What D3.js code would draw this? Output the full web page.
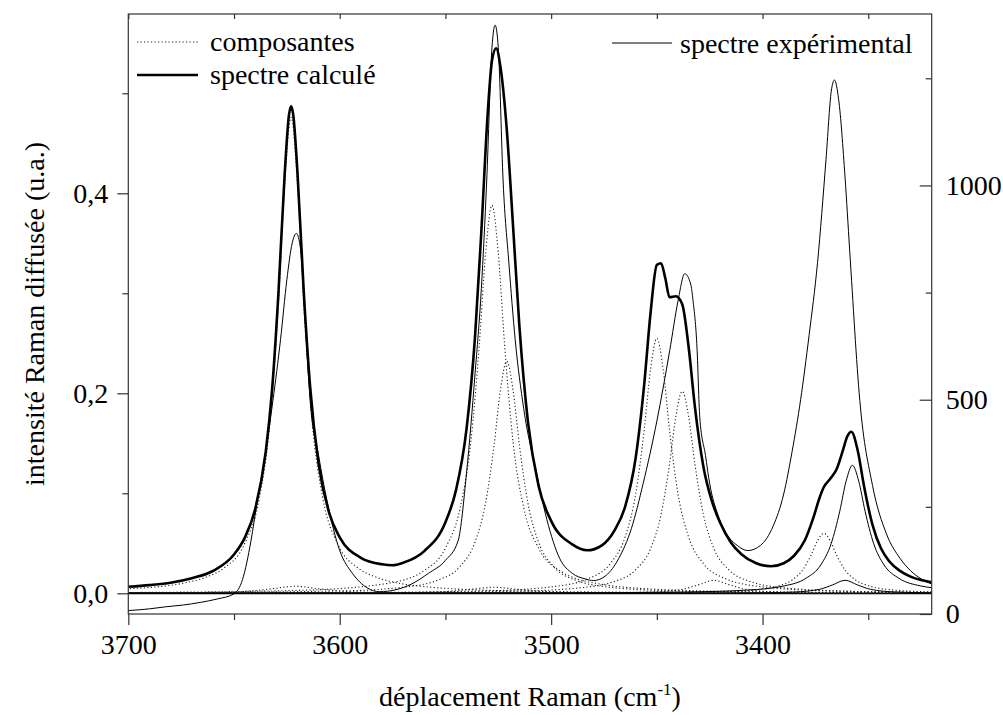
<!DOCTYPE html>
<html><head><meta charset="utf-8">
<script src="https://cdn.jsdelivr.net/npm/d3@7"></script>
<style>body{margin:0;background:#fff}svg{display:block}</style>
</head><body><svg id="c" width="1003" height="715"></svg>
<script>
// ---- data (wavenumber cm-1, intensity) ----
const xTicks=[3700,3600,3500,3400], xMinor=[3650,3550,3450,3350];
const yLeftTicks=[0,0.2,0.4], yLeftMinor=[0.1,0.3,0.5];
const yRightTicks=[0,500,1000], yRightMinor=[250,750,1250];
// calculated spectrum (left axis)
const calc=[[3700,0.0065],[3690,0.0082],[3680,0.0106],[3670,0.0151],[3660,0.0223],[3650,0.0388],[3645,0.0552],[3640,0.084],[3635,0.1413],[3632,0.2035],[3629,0.2997],[3626,0.4206],[3624,0.4784],[3623,0.4869],[3622,0.4787],[3620,0.4213],[3617,0.301],[3614,0.2067],[3610,0.1295],[3605,0.0805],[3600,0.0559],[3590,0.0355],[3580,0.029],[3575,0.028],[3570,0.0305],[3560,0.0422],[3550,0.0711],[3545,0.1032],[3540,0.1647],[3536,0.2567],[3533,0.3625],[3530,0.4802],[3528,0.5323],[3526,0.545],[3524,0.5268],[3521,0.4642],[3518,0.3667],[3515,0.2666],[3511,0.172],[3506,0.1079],[3500,0.0724],[3490,0.0489],[3483,0.043],[3476,0.048],[3470,0.063],[3465,0.0866],[3460,0.1358],[3456,0.2084],[3453,0.2798],[3450,0.3284],[3448,0.330],[3446,0.315],[3444,0.296],[3441,0.297],[3438,0.289],[3435,0.2468],[3432,0.1864],[3428,0.1269],[3424,0.0924],[3420,0.0702],[3415,0.0509],[3410,0.0391],[3403,0.030],[3396,0.027],[3390,0.030],[3385,0.0378],[3380,0.0531],[3376,0.0755],[3373,0.0958],[3371,0.1063],[3368,0.1145],[3365,0.124],[3362,0.143],[3360,0.1565],[3358,0.1616],[3355,0.1428],[3352,0.1071],[3348,0.0685],[3344,0.045],[3340,0.0318],[3335,0.0224],[3330,0.0167],[3325,0.0132],[3320,0.0109]];
// components (left axis), dotted
const comp3623=[[3700,0.0045],[3673,0.0105],[3663,0.0163],[3655,0.0248],[3645,0.0495],[3638,0.0952],[3633,0.171],[3629,0.290],[3626,0.410],[3623,0.476],[3620,0.410],[3617,0.290],[3613,0.171],[3608,0.0952],[3601,0.0495],[3591,0.0248],[3583,0.0163],[3573,0.0105],[3558,0.0063],[3543,0.0041],[3503,0.0019],[3423,0.0007],[3320,0.0003]];
const comp3621=[[3700,0.0002],[3661,0.0009],[3641,0.0025],[3631,0.0048],[3621,0.007],[3611,0.0048],[3601,0.0025],[3581,0.0009],[3541,0.0002],[3320,0]];
const comp3528=[[3700,0.0008],[3620,0.0029],[3578,0.0097],[3560,0.0228],[3550,0.0453],[3543,0.0857],[3538,0.151],[3534,0.248],[3531,0.340],[3528,0.388],[3525,0.340],[3522,0.248],[3518,0.151],[3513,0.0857],[3506,0.0453],[3496,0.0228],[3478,0.0097],[3448,0.0038],[3408,0.0017],[3320,0.0006]];
const comp3521=[[3700,0.0005],[3601,0.0023],[3571,0.0058],[3553,0.0136],[3543,0.0271],[3536,0.0513],[3531,0.0905],[3527,0.148],[3524,0.203],[3521,0.232],[3518,0.203],[3515,0.148],[3511,0.0905],[3506,0.0513],[3499,0.0271],[3489,0.0136],[3471,0.0058],[3441,0.0023],[3401,0.001],[3320,0.0004]];
const comp3527=[[3700,0],[3587,0.0004],[3562,0.0009],[3547,0.0022],[3537,0.0042],[3527,0.006],[3517,0.0042],[3507,0.0022],[3492,0.0009],[3467,0.0004],[3320,0]];
const comp3450=[[3700,0.0003],[3600,0.0007],[3530,0.0025],[3500,0.0064],[3482,0.015],[3472,0.0298],[3465,0.0564],[3460,0.0995],[3456,0.1632],[3453,0.2236],[3450,0.255],[3447,0.2236],[3444,0.1632],[3440,0.0995],[3435,0.0564],[3428,0.0298],[3418,0.015],[3400,0.0064],[3370,0.0025],[3320,0.001]];
const comp3438=[[3700,0.0002],[3600,0.0005],[3518,0.002],[3488,0.0051],[3470,0.0119],[3460,0.0236],[3453,0.0446],[3448,0.0788],[3444,0.1293],[3441,0.1772],[3438,0.202],[3435,0.1772],[3432,0.1293],[3428,0.0788],[3423,0.0446],[3416,0.0236],[3406,0.0119],[3388,0.0051],[3358,0.002],[3320,0.0009]];
const comp3423=[[3700,0],[3523,0.0001],[3473,0.0005],[3453,0.0013],[3438,0.004],[3430,0.0087],[3423,0.013],[3416,0.0087],[3408,0.004],[3393,0.0013],[3373,0.0005],[3320,0.0001]];
const comp3371=[[3700,0],[3500,0.0002],[3451,0.0006],[3421,0.0015],[3403,0.0035],[3393,0.007],[3386,0.0133],[3381,0.0234],[3377,0.0384],[3374,0.0526],[3371,0.060],[3368,0.0526],[3365,0.0384],[3361,0.0234],[3356,0.0133],[3349,0.007],[3339,0.0035],[3320,0.0014]];
const zeroComp=[[3700,0],[3320,0]];
// components drawn thin solid (left axis)
const comp3357=[[3700,0.0001],[3500,0.0004],[3437.5,0.0013],[3407.5,0.0032],[3389.5,0.0075],[3379.5,0.015],[3372.5,0.0283],[3367.5,0.05],[3363.5,0.082],[3360.5,0.112],[3357.5,0.128],[3354.5,0.112],[3351.5,0.082],[3347.5,0.05],[3342.5,0.0283],[3335.5,0.015],[3325.5,0.0075],[3320,0.0056]];
const comp3361=[[3700,0],[3420,0.0002],[3400,0.0005],[3385,0.0013],[3373,0.004],[3367,0.0083],[3361,0.013],[3355,0.0083],[3349,0.004],[3337,0.0013],[3320,0.0005]];
// experimental spectrum (right axis)
const expSpec=[[3700,8],[3690,12],[3682,17],[3674,21],[3666,27],[3658,35],[3650,47],[3646,80],[3642,170],[3639,264],[3635,380],[3631.6,498],[3628,640],[3625,780],[3622.5,865],[3620.5,888],[3618.5,850],[3616.5,700],[3614,498],[3610,370],[3606,264],[3600,148],[3594,95],[3587,61],[3581,52],[3574,56],[3566,70],[3558,95],[3550,125],[3544,171],[3540,330],[3536,560],[3533,760],[3530.5,1008],[3528,1321],[3526.5,1374],[3525,1321],[3522.7,1008],[3520,820],[3517,640],[3513,480],[3507,330],[3502,220],[3496,130],[3490,95],[3484,82],[3480,78],[3474,90],[3468,130],[3462,200],[3456.5,304],[3450,450],[3443.9,615],[3440,730],[3436.8,794],[3434,770],[3432.9,732],[3431,620],[3429.7,459],[3427,370],[3425,304],[3421,230],[3417,187],[3412,160],[3407,148],[3401,160],[3395,205],[3390,280],[3386,380],[3382,500],[3378,650],[3374,820],[3370,1060],[3367.5,1220],[3366,1246],[3364,1200],[3361,1020],[3358.8,849],[3354,498],[3348,300],[3341.4,187],[3335,130],[3330,101],[3325,82],[3320,70]];

// ---- drawing ----
const FONT="'Liberation Serif', Tinos, 'Times New Roman', Times, 'DejaVu Serif', serif";
const svg=d3.select("#c");
const L=128.3,R=931.7,T=14,B=614;
const x=d3.scaleLinear().domain([3700,3320]).range([L,R]);
const yL=d3.scaleLinear().domain([-0.0207,0.5793]).range([B,T]);
const yR=d3.scaleLinear().domain([0,1400]).range([B,T]);
const fmt=d=>d3.format(".1f")(d).replace(".",",");
svg.append("defs").append("clipPath").attr("id","clp").append("rect").attr("x",L).attr("y",T).attr("width",R-L).attr("height",B-T);
const g=svg.append("g").attr("clip-path","url(#clp)");
const lineL=d3.line().x(d=>x(d[0])).y(d=>yL(d[1])).curve(d3.curveMonotoneX);
const lineR=d3.line().x(d=>x(d[0])).y(d=>yR(d[1])).curve(d3.curveMonotoneX);
const sortAsc=a=>a.slice().sort((p,q)=>p[0]-q[0]);
g.append("path").attr("d",lineL(sortAsc(zeroComp))).attr("fill","none").attr("stroke","#000").attr("stroke-width",1.8);
[comp3623,comp3621,comp3528,comp3521,comp3527,comp3450,comp3438,comp3423,comp3371,zeroComp].forEach(c=>{
  g.append("path").attr("d",lineL(sortAsc(c))).attr("fill","none").attr("stroke","#222").attr("stroke-width",1.1).attr("stroke-dasharray","1.2,2.3");
});
[comp3357,comp3361].forEach(c=>{
  g.append("path").attr("d",lineL(sortAsc(c))).attr("fill","none").attr("stroke","#000").attr("stroke-width",1);
});
g.append("path").attr("d",lineR(sortAsc(expSpec))).attr("fill","none").attr("stroke","#000").attr("stroke-width",1);
g.append("path").attr("d",lineL(sortAsc(calc))).attr("fill","none").attr("stroke","#000").attr("stroke-width",2.6);

const axCol="#333";
function styleAxis(sel){sel.attr("font-family",FONT).attr("font-size",28);sel.select(".domain").remove();sel.selectAll("line").attr("stroke",axCol).attr("stroke-width",1.2);sel.selectAll("text").attr("fill","#000");}
svg.append("g").attr("transform",`translate(0,${B})`).call(d3.axisBottom(x).tickValues(xTicks).tickSize(11).tickPadding(9).tickFormat(d3.format("d"))).call(styleAxis);
svg.append("g").attr("transform",`translate(0,${B})`).call(d3.axisBottom(x).tickValues(xMinor).tickSize(6).tickFormat("")).call(styleAxis);
svg.append("g").attr("transform",`translate(0,${T})`).call(d3.axisBottom(x).tickValues(xTicks.concat(xMinor)).tickSize(5).tickFormat("")).call(styleAxis);
svg.append("g").attr("transform",`translate(${L},0)`).call(d3.axisLeft(yL).tickValues(yLeftTicks).tickSize(11).tickPadding(9).tickFormat(fmt)).call(styleAxis);
svg.append("g").attr("transform",`translate(${L},0)`).call(d3.axisLeft(yL).tickValues(yLeftMinor).tickSize(6).tickFormat("")).call(styleAxis);
svg.append("g").attr("transform",`translate(${R},0)`).call(d3.axisRight(yR).tickValues(yRightTicks).tickSize(-12).tickPadding(14).tickFormat(d3.format("d"))).call(styleAxis);
svg.append("g").attr("transform",`translate(${R},0)`).call(d3.axisRight(yR).tickValues(yRightMinor).tickSize(-6).tickFormat("")).call(styleAxis);
svg.append("rect").attr("x",L).attr("y",T).attr("width",R-L).attr("height",B-T).attr("fill","none").attr("stroke",axCol).attr("stroke-width",1.2);

const txt=(xx,yy,s,size)=>svg.append("text").attr("x",xx).attr("y",yy).attr("font-family",FONT).attr("font-size",size||28).attr("fill","#000").text(s);
const xt=svg.append("text").attr("x",(L+R)/2).attr("y",706).attr("text-anchor","middle").attr("font-family",FONT).attr("font-size",28);
xt.append("tspan").text("déplacement Raman (cm");
xt.append("tspan").attr("dy",-11).attr("font-size",17).text("-1");
xt.append("tspan").attr("dy",11).text(")");
svg.append("text").attr("transform",`translate(44,${(T+B)/2}) rotate(-90)`).attr("text-anchor","middle").attr("font-family",FONT).attr("font-size",28).text("intensité Raman diffusée (u.a.)");

svg.append("line").attr("x1",137).attr("x2",198).attr("y1",42).attr("y2",42).attr("stroke","#222").attr("stroke-width",1.1).attr("stroke-dasharray","1.2,2.3");
txt(210,51,"composantes");
svg.append("line").attr("x1",137).attr("x2",198).attr("y1",75).attr("y2",75).attr("stroke","#000").attr("stroke-width",2.6);
txt(210,84,"spectre calculé");
svg.append("line").attr("x1",612).attr("x2",672).attr("y1",43).attr("y2",43).attr("stroke","#000").attr("stroke-width",1);
txt(680,53,"spectre expérimental");
</script></body></html>
